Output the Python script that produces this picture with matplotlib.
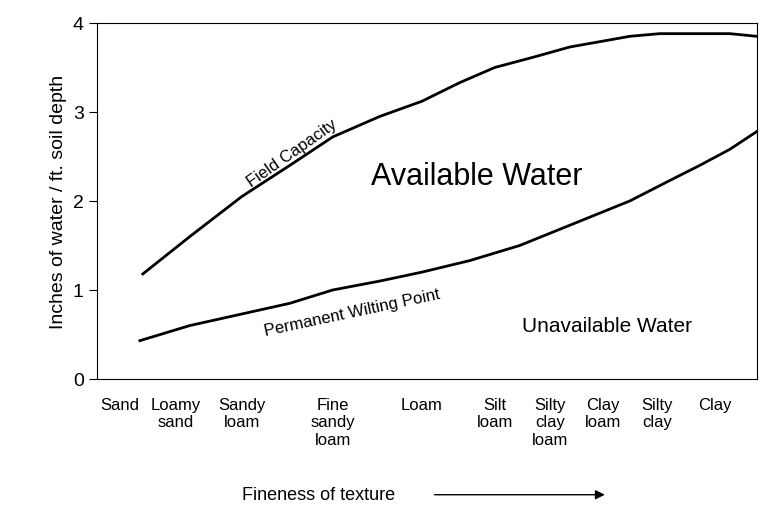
import matplotlib
matplotlib.use("Agg")
import matplotlib.pyplot as plt

plt.rcParams["font.family"] = ["Liberation Sans", "DejaVu Sans"]

# textures along the x axis (positions in axis units)
textures = ["Sand", "Loamy\nsand", "Sandy\nloam", "Fine\nsandy\nloam", "Loam",
            "Silt\nloam", "Silty\nclay\nloam", "Clay\nloam", "Silty\nclay", "Clay"]
texture_x = [120, 176, 242, 333, 422, 495, 550, 603, 657, 715]

# curves
fc_x = [143, 190, 242, 290, 333, 380, 422, 460, 495, 535, 570, 600, 630, 660, 700, 730, 757]
fc_y = [1.18, 1.6, 2.05, 2.4, 2.72, 2.95, 3.12, 3.33, 3.5, 3.62, 3.73, 3.79, 3.85, 3.88, 3.88, 3.88, 3.85]
pwp_x = [140, 190, 242, 290, 333, 380, 422, 470, 520, 575, 630, 670, 700, 730, 757]
pwp_y = [0.43, 0.6, 0.73, 0.85, 1.0, 1.1, 1.2, 1.33, 1.5, 1.75, 2.0, 2.23, 2.4, 2.58, 2.78]

fig = plt.figure(figsize=(7.81, 5.10), dpi=100)
ax = fig.add_axes([0.124, 0.255, 0.845, 0.698])
ax.plot(fc_x, fc_y, color="black", lw=2)
ax.plot(pwp_x, pwp_y, color="black", lw=2)
ax.set_xlim(97, 757)
ax.set_ylim(0, 4)
ax.set_yticks([0, 1, 2, 3, 4])
ax.tick_params(axis="y", direction="out", length=6, labelsize=14)
ax.set_xticks([])
for t, x in zip(textures, texture_x):
    ax.text(x, -0.2, t, ha="center", va="top", fontsize=12, linespacing=1.2)
ax.set_ylabel("Inches of water / ft. soil depth", fontsize=14)

ax.text(292, 2.55, "Field Capacity", rotation=35, fontsize=12, ha="center", va="center")
ax.text(352, 0.75, "Permanent Wilting Point", rotation=12, fontsize=12, ha="center", va="center")
ax.text(477, 2.28, "Available Water", fontsize=22, ha="center", va="center")
ax.text(607, 0.6, "Unavailable Water", fontsize=15, ha="center", va="center")

fig.text(0.31, 0.028, "Fineness of texture", fontsize=13, ha="left", va="center")
fig.add_artist(matplotlib.patches.FancyArrowPatch((0.553, 0.028), (0.778, 0.028),
               transform=fig.transFigure, arrowstyle="-|>", mutation_scale=14,
               color="black", lw=1))

fig.savefig("out.png", dpi=100)
